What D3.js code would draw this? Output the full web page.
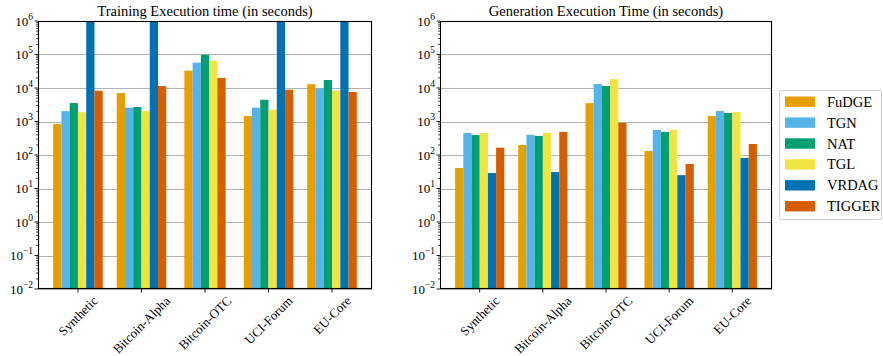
<!DOCTYPE html>
<html><head><meta charset="utf-8">
<script src="https://cdn.jsdelivr.net/npm/d3@7"></script>
<style>body{margin:0;background:#fff}svg{display:block}text{font-family:"Liberation Serif","Times New Roman",serif;fill:#000}</style>
</head><body><svg id="c" width="883" height="356"></svg>
<script>
const categories = ["Synthetic","Bitcoin-Alpha","Bitcoin-OTC","UCI-Forum","EU-Core"];
const methods = ["FuDGE","TGN","NAT","TGL","VRDAG","TIGGER"];
const colors = ["#E69F00","#56B4E9","#009E73","#F0E442","#0072B2","#D55E00"];
// one array per method, one value per category; null = not available
const trainFuDGE  = [850, 7100, 33000, 1450, 13000];
const trainTGN    = [2050, 2600, 57000, 2600, 9700];
const trainNAT    = [3550, 2700, 98000, 4450, 17300];
const trainTGL    = [1900, 2050, 65000, 2250, 8300];
const trainVRDAG  = [1e6, 1e6, null, 1e6, 1e6];
const trainTIGGER = [8300, 11500, 20000, 8900, 7600];
const genFuDGE  = [41, 200, 3550, 131, 1450];
const genTGN    = [455, 400, 13200, 560, 2050];
const genNAT    = [395, 370, 11500, 490, 1800];
const genTGL    = [455, 455, 18500, 560, 1900];
const genVRDAG  = [29, 31, null, 25, 82];
const genTIGGER = [165, 490, 910, 54, 213];
const yTickExps = [-2,-1,0,1,2,3,4,5,6];
const titles = ["Training Execution time (in seconds)","Generation Execution Time (in seconds)"];

const training = [trainFuDGE,trainTGN,trainNAT,trainTGL,trainVRDAG,trainTIGGER];
const generation = [genFuDGE,genTGN,genNAT,genTGL,genVRDAG,genTIGGER];

const svg = d3.select("#c");
const yTop = 21, yBot = 289;
const panels = [{x0:38,x1:372,data:training,title:titles[0]},{x0:440,x1:772,data:generation,title:titles[1]}];
const barW = 0.13;
const minSpan = (categories.length-1) + 6*barW;
const pad = 0.05*minSpan;

panels.forEach((p,pi)=>{
  const g = svg.append("g");
  const x = d3.scaleLinear().domain([-3*barW-pad, categories.length-1+3*barW+pad]).range([p.x0,p.x1]);
  const y = d3.scaleLog().domain([1e-2,1e6]).range([yBot,yTop]);
  const cid = "clip"+pi;
  svg.append("clipPath").attr("id",cid).append("rect").attr("x",p.x0).attr("y",yTop).attr("width",p.x1-p.x0).attr("height",yBot-yTop);
  // grid
  g.selectAll("line.grid").data(yTickExps).enter().append("line")
    .attr("x1",p.x0).attr("x2",p.x1).attr("y1",d=>Math.round(y(Math.pow(10,d)))+0.5).attr("y2",d=>Math.round(y(Math.pow(10,d)))+0.5)
    .attr("stroke","#b0b0b0").attr("stroke-width",1);
  // bars
  const bars = [];
  categories.forEach((c,ci)=>{
    const present = methods.map((m,mi)=>mi).filter(mi=>p.data[mi][ci]!=null);
    present.forEach((mi,j)=>{
      const off = (j-(present.length-1)/2)*barW;
      bars.push({ci,mi,cx:ci+off,v:p.data[mi][ci]});
    });
  });
  g.append("g").attr("clip-path",`url(#${cid})`).selectAll("rect").data(bars).enter().append("rect")
    .attr("x",d=>x(d.cx-barW/2)).attr("width",d=>x(d.cx+barW/2)-x(d.cx-barW/2))
    .attr("y",d=>y(d.v)).attr("height",d=>yBot-y(d.v)).attr("fill",d=>colors[d.mi]);
  // frame
  g.append("rect").attr("x",p.x0+0.5).attr("y",yTop+0.5).attr("width",p.x1-p.x0-1).attr("height",yBot-yTop-1)
    .attr("fill","none").attr("stroke","#000").attr("stroke-width",1.1);
  // y ticks
  const minors=[];
  for(let e=-2;e<6;e++) for(let k=2;k<10;k++) minors.push(k*Math.pow(10,e));
  g.selectAll("line.minor").data(minors).enter().append("line")
    .attr("x1",p.x0-2).attr("x2",p.x0).attr("y1",d=>y(d)).attr("y2",d=>y(d)).attr("stroke","#000").attr("stroke-width",0.7);
  g.selectAll("line.major").data(yTickExps).enter().append("line")
    .attr("x1",p.x0-3.5).attr("x2",p.x0).attr("y1",d=>y(Math.pow(10,d))).attr("y2",d=>y(Math.pow(10,d))).attr("stroke","#000").attr("stroke-width",0.9);
  const yl = g.selectAll("text.yl").data(yTickExps).enter().append("text")
    .attr("x",p.x0-5).attr("y",d=>y(Math.pow(10,d))+4.5).attr("text-anchor","end").style("font-size","13px");
  yl.append("tspan").text("10");
  yl.append("tspan").attr("dy",-6).style("font-size","9.5px").text(d=>d<0?"\u2212"+(-d):String(d));
  // x ticks
  categories.forEach((c,ci)=>{
    g.append("line").attr("x1",x(ci)).attr("x2",x(ci)).attr("y1",yBot).attr("y2",yBot+3.5).attr("stroke","#000").attr("stroke-width",0.9);
    const t = g.append("text").text(c).style("font-size","13px").attr("text-anchor","middle").attr("dominant-baseline","central");
    const L = t.node().getComputedTextLength();
    const fh = 10;
    const half = (L*Math.SQRT1_2 + fh*Math.SQRT1_2)/2;
    t.attr("transform",`translate(${x(ci)},${yBot+6+half}) rotate(-45)`);
  });
  g.append("text").attr("x",(p.x0+p.x1)/2).attr("y",yTop-5).attr("text-anchor","middle").style("font-size","14.5px").text(p.title);
});

// legend
const lg = svg.append("g");
lg.append("rect").attr("x",779.5).attr("y",90.5).attr("width",102).attr("height",129).attr("rx",2)
  .attr("fill","#fff").attr("stroke","#cccccc").attr("stroke-width",1);
methods.forEach((m,i)=>{
  const cy = 101.7 + i*20.9;
  lg.append("rect").attr("x",785).attr("y",cy-5.2).attr("width",30).attr("height",10.4).attr("fill",colors[i]);
  lg.append("text").attr("x",827).attr("y",cy+5).style("font-size","14.5px").text(m);
});
</script></body></html>
